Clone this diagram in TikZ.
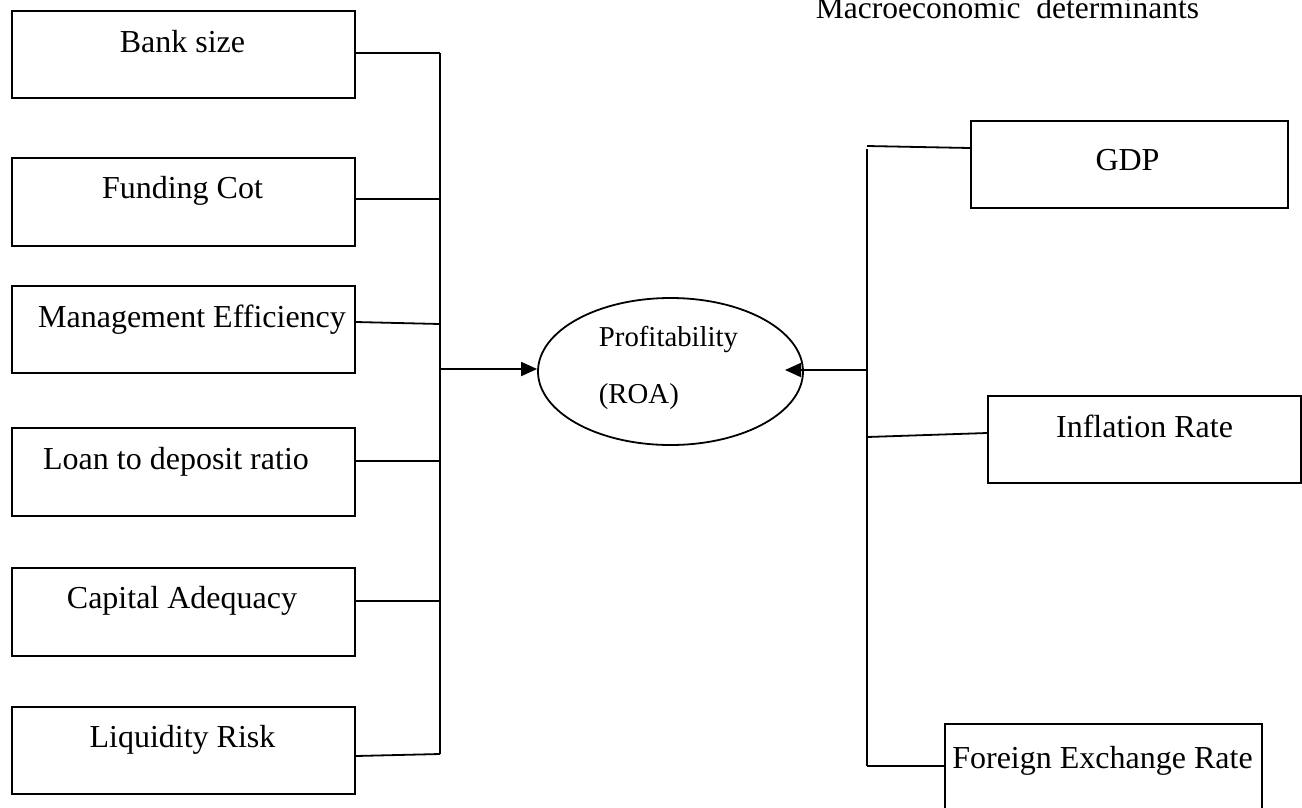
\documentclass[tikz,border=0pt]{standalone}
\usepackage{fontspec}
\setmainfont{Liberation Serif}
\usetikzlibrary{arrows.meta,calc,shapes.geometric}
\begin{document}
\begin{tikzpicture}[x=1pt,y=-1pt,
  line width=1.8pt,
  box/.style={draw,line width=1.8pt,rectangle,anchor=north west,inner sep=0pt},
  lbl/.style={inner sep=0pt,anchor=base,font=\fontsize{32}{38}\selectfont},
  conn/.style={line width=1.8pt},
  arr/.style={line width=1.8pt,-{Triangle[length=16pt,width=14pt]}}]
\clip (0,0) rectangle (1302,807);
\fill[white] (0,0) rectangle (1302,807);
% title
\begin{scope}
\clip (800,-5) rectangle (1200,40);
\node[inner sep=0pt,anchor=base west,font=\fontsize{31.5}{36}\selectfont] (macro) at (815,18) {Macroeconomic\ \ determinants};
\end{scope}
% left boxes
\node[box,minimum width=343pt,minimum height=87pt] (bank) at (11,10) {};
\node[box,minimum width=343pt,minimum height=88pt] (fund) at (11,157) {};
\node[box,minimum width=343pt,minimum height=87pt] (mgmt) at (11,285) {};
\node[box,minimum width=343pt,minimum height=88pt] (loan) at (11,427) {};
\node[box,minimum width=343pt,minimum height=88pt] (cap) at (11,567) {};
\node[box,minimum width=343pt,minimum height=87pt] (liq) at (11,706) {};
\node[lbl] (bankt) at (182.5,52) {Bank size};
\node[lbl] (fundt) at (182.5,198) {Funding Cot};
\node[lbl] (mgmtt) at (192,327) {Management Efficiency};
\node[lbl] (loant) at (176,469) {Loan to deposit\ ratio};
\node[lbl] (capt) at (182,608) {Capital Adequacy};
\node[lbl] (liqt) at (182.5,747) {Liquidity Risk};
% left bus
\coordinate (lb1) at (440,53);
\coordinate (lb2) at (440,199);
\coordinate (lb3) at (440,324);
\coordinate (lb4) at (440,461);
\coordinate (lb5) at (440,601);
\coordinate (lb6) at (440,754);
\coordinate (lbm) at (440,369);
\draw[conn] (lb1) -- (lb6);
\draw[conn] (bank.north east |- lb1) -- (lb1);
\draw[conn] (fund.north east |- lb2) -- (lb2);
\draw[conn] ($(mgmt.north east)+(0,37)$) -- (lb3);
\draw[conn] (loan.north east |- lb4) -- (lb4);
\draw[conn] (cap.north east |- lb5) -- (lb5);
\draw[conn] ($(liq.north east)+(0,50)$) -- (lb6);
% ellipse
\node[draw,ellipse,line width=1.8pt,minimum width=265pt,minimum height=147pt,inner sep=0pt] (roa) at (670.5,371.5) {};
\node[inner sep=0pt,anchor=base west,font=\fontsize{28.8}{34}\selectfont] (roat1) at (598,346) {Profitability};
\node[inner sep=0pt,anchor=base west,font=\fontsize{28.8}{34}\selectfont] (roat2) at (598,403) {(ROA)};
\draw[arr] (lbm) -- (roa.west |- lbm);
% right side
\node[box,minimum width=317pt,minimum height=87pt] (gdp) at (970,120) {};
\node[box,minimum width=313pt,minimum height=87pt] (inf) at (987,395) {};
\node[box,minimum width=317pt,minimum height=110pt] (fx) at (944,723) {};
\node[lbl] (gdpt) at (1127.5,170) {GDP};
\node[lbl] (inft) at (1144.5,437) {Inflation Rate};
\node[lbl] (fxt) at (1102.5,768) {Foreign Exchange Rate};
\coordinate (rb1) at (867,146);
\coordinate (rb2) at (867,437);
\coordinate (rb3) at (867,766);
\coordinate (rbm) at (867,370);
\coordinate (rtip) at (785,370);
\draw[conn] (867,149) -- (rb3);
\draw[conn] (rb1) -- ($(gdp.north west)+(0,28)$);
\draw[conn] (rb2) -- ($(inf.north west)+(0,38)$);
\draw[conn] (rb3) -- (fx.north west |- rb3);
\draw[arr] (rbm) -- (rtip);
\end{tikzpicture}
\end{document}
